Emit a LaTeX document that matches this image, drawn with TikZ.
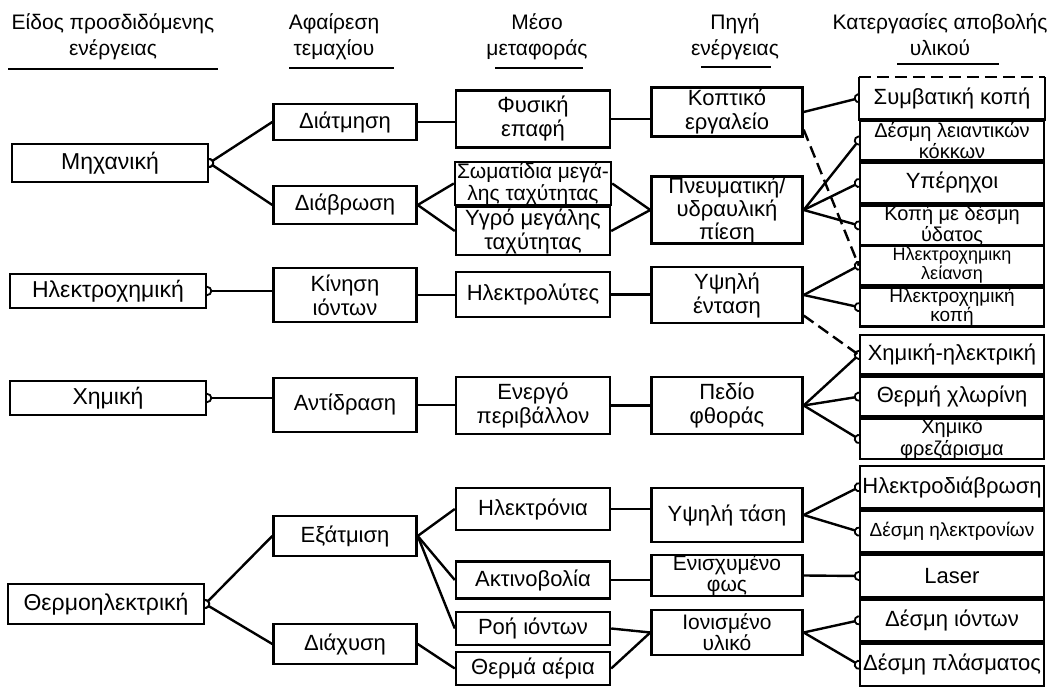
\documentclass[tikz,border=0pt]{standalone}
\usepackage{fontspec}
\setmainfont{Liberation Sans}
\usetikzlibrary{arrows.meta, positioning}
\pgfdeclarelayer{background}
\pgfsetlayers{background,main}

\begin{document}
\begin{tikzpicture}[x=0.5pt, y=-0.5pt,
    box/.style={draw, line width=1.2pt, fill=white, align=center, inner xsep=1pt, inner ysep=0pt,
        font=\fontsize{11}{12}\selectfont},
    c1/.style={box, minimum width=98pt, font=\fontsize{11.5}{12}\selectfont},
    c2/.style={box, minimum width=71.5pt},
    c3/.style={box, minimum width=77pt},
    c4/.style={box, minimum width=75.5pt},
    c5/.style={box, minimum width=92pt},
    twoline/.style={font=\fontsize{10}{9.5}\selectfont},
    hd/.style={align=center, anchor=north, inner sep=0pt, font=\fontsize{10.5}{13}\selectfont},
    uline/.style={line width=1.4pt},
    lnk/.style={line width=1.2pt},
    outtip/.style={{Circle[open, length=5pt, line width=0.9pt]}-, shorten <=-2.5pt},
    intip/.style={-{Circle[open, length=5pt, line width=0.9pt]}, shorten >=-2.5pt},
    dsh/.style={line width=1.2pt, dash pattern=on 6pt off 3pt}
]
    \useasboundingbox (0,0) rectangle (1055,688);

    \node[hd] (h1) at (113,13) {Είδος προσδιδόμενης\\ενέργειας};
    \node[hd] (h2) at (334,13) {Αφαίρεση\\τεμαχίου};
    \node[hd] (h3) at (537,13) {Μέσο\\μεταφοράς};
    \node[hd] (h4) at (735,13) {Πηγή\\ενέργειας};
    \node[hd] (h5) at (940,13) {Κατεργασίες αποβολής\\υλικού};
    \draw[uline] (8,69) -- (218,69);
    \draw[uline] (289,68) -- (394,68);
    \draw[uline] (495,68) -- (583,68);
    \draw[uline] (701,67) -- (771,67);
    \draw[uline] (897,64) -- (999,64);

    \node[c1, minimum height=19pt] (meh) at (110,163) {Μηχανική};
    \node[c1, minimum height=17pt] (hlx) at (108,291) {Ηλεκτροχημική};
    \node[c1, minimum height=17pt] (xhm) at (108,398) {Χημική};
    \node[c1, minimum height=20pt] (therm) at (106,604) {Θερμοηλεκτρική};

    \node[c2, minimum height=18pt] (diat) at (345,122) {Διάτμηση};
    \node[c2, minimum height=19pt] (diavr) at (345,205) {Διάβρωση};
    \node[c2, minimum height=27pt] (kin) at (345,295) {Κίνηση\\ιόντων};
    \node[c2, minimum height=27pt] (antid) at (345,405) {Αντίδραση};
    \node[c2, minimum height=20pt] (exat) at (345,536) {Εξάτμιση};
    \node[c2, minimum height=20pt] (diax) at (345,644) {Διάχυση};

    \node[c3, minimum height=28.5pt] (fys) at (533,119) {Φυσική\\επαφή};
    \node[c3, minimum height=21.5pt, font=\fontsize{10.5}{11}\selectfont] (som) at (533,183.5) {Σωματίδια μεγά-\\λης ταχύτητας};
    \node[c3, minimum height=24pt] (ygro) at (533,231) {Υγρό μεγάλης\\ταχύτητας};
    \node[c3, minimum height=22.5pt] (hlytes) at (533,294.5) {Ηλεκτρολύτες};
    \node[c3, minimum height=28.5pt] (energo) at (533,405.5) {Ενεργό\\περιβάλλον};
    \node[c3, minimum height=21pt] (hlektronia) at (533,509) {Ηλεκτρόνια};
    \node[c3, minimum height=18.5pt] (aktin) at (533,580) {Ακτινοβολία};
    \node[c3, minimum height=16.5pt] (roi) at (533,628.5) {Ροή ιόντων};
    \node[c3, minimum height=16.5pt] (therma) at (533,668.5) {Θερμά αέρια};

    \node[c4, minimum height=22pt, inner ysep=1pt] (kopt) at (727,112) {Κοπτικό\\εργαλείο};
    \node[c4, minimum height=33pt, font=\fontsize{11}{11.5}\selectfont] (pneum) at (727,210) {Πνευματική/\\υδραυλική\\πίεση};
    \node[c4, minimum height=28pt] (yent) at (727,295) {Υψηλή\\ένταση};
    \node[c4, minimum height=28.5pt] (pedio) at (727,405.5) {Πεδίο\\φθοράς};
    \node[c4, minimum height=27pt] (ytasi) at (727,515) {Υψηλή τάση};
    \node[c4, minimum height=19.5pt, font=\fontsize{10.5}{10.5}\selectfont] (enisx) at (727,575.5) {Ενισχυμένο\\φως};
    \node[c4, minimum height=22.5pt, font=\fontsize{10.5}{10.5}\selectfont] (ionis) at (727,632.5) {Ιονισμένο\\υλικό};

    \node[c5, draw=none, minimum height=20pt, anchor=north] (sk) at (952,77) {Συμβατική κοπή};
    \node[c5, twoline, minimum height=20pt, below=0pt of sk] (dlk) {Δέσμη λειαντικών\\κόκκων};
    \node[c5, minimum height=20pt, below=0pt of dlk] (yp) {Υπέρηχοι};
    \node[c5, twoline, minimum height=20pt, below=0pt of yp] (kdy) {Κοπή με δέσμη\\ύδατος};
    \draw[line width=1.2pt] (sk.north west) -- (sk.south west) -- (sk.south east) -- (sk.north east);
    \draw[dsh] (sk.north west) -- (sk.north east);

    \node[c5, minimum height=19.5pt, anchor=north, font=\fontsize{9}{9.5}\selectfont] (hlei) at (952,245) {Ηλεκτροχημικη\\λείανση};
    \node[c5, minimum height=19.5pt, below=0pt of hlei, font=\fontsize{9.5}{9.5}\selectfont] (hkop) {Ηλεκτροχημική\\κοπή};

    \node[c5, minimum height=19.7pt, anchor=north] (xhl) at (952,334) {Χημική-ηλεκτρική};
    \node[c5, minimum height=19.7pt, below=0pt of xhl] (thx) {Θερμή χλωρίνη};
    \node[c5, twoline, minimum height=19.7pt, below=0pt of thx] (xfr) {Χημικό\\φρεζάρισμα};

    \node[c5, minimum height=21pt, anchor=north] (hldv) at (952,465) {Ηλεκτροδιάβρωση};
    \node[c5, minimum height=21pt, below=0pt of hldv, font=\fontsize{9.5}{10}\selectfont] (dhl) {Δέσμη ηλεκτρονίων};
    \node[c5, minimum height=21pt, below=0pt of dhl] (laser) {Laser};
    \node[c5, minimum height=21pt, below=0pt of laser] (dion) {Δέσμη ιόντων};
    \node[c5, minimum height=21pt, below=0pt of dion] (dpl) {Δέσμη πλάσματος};

    \begin{pgfonlayer}{background}
    \draw[lnk, outtip] (meh.east) -- (diat.west);
    \draw[lnk, outtip] (meh.east) -- (diavr.west);
    \draw[lnk] (diat.east) -- (diat.east -| fys.west);
    \draw[lnk] (diavr.east) -- (som.west);
    \draw[lnk] (diavr.east) -- (ygro.west);
    \draw[lnk] (fys.east) -- (fys.east -| kopt.west);
    \draw[lnk] (som.east) -- (pneum.west);
    \draw[lnk] (ygro.east) -- (pneum.west);
    \draw[lnk, intip] (kopt.east) -- (sk.west);
    \draw[lnk, intip] (pneum.east) -- (dlk.west);
    \draw[lnk, intip] (pneum.east) -- (yp.west);
    \draw[lnk, intip] (pneum.east) -- (kdy.west);

    \draw[lnk, outtip] (hlx.east) -- (hlx.east -| kin.west);
    \draw[lnk] (kin.east) -- (kin.east -| hlytes.west);
    \draw[lnk] (hlytes.east) -- (hlytes.east -| yent.west);
    \draw[lnk, intip] (yent.east) -- (hlei.west);
    \draw[lnk, intip] (yent.east) -- (hkop.west);

    \draw[lnk, outtip] (xhm.east) -- (xhm.east -| antid.west);
    \draw[lnk] (antid.east) -- (antid.east -| energo.west);
    \draw[lnk] (energo.east) -- (energo.east -| pedio.west);
    \draw[lnk, intip] (pedio.east) -- (xhl.west);
    \draw[lnk, intip] (pedio.east) -- (thx.west);
    \draw[lnk, intip] (pedio.east) -- (xfr.west);

    \draw[dsh] (kopt.-13) -- (hlei.west);
    \draw[dsh] (yent.-15) -- (xhl.west);

    \draw[lnk, outtip] (therm.east) -- (exat.west);
    \draw[lnk, outtip] (therm.east) -- (diax.west);
    \draw[lnk] (exat.east) -- (hlektronia.west);
    \draw[lnk] (exat.east) -- (aktin.west);
    \draw[lnk] (exat.east) -- (roi.west);
    \draw[lnk] (diax.east) -- (therma.west);
    \draw[lnk] (hlektronia.east) -- (hlektronia.east -| ytasi.west);
    \draw[lnk] (aktin.east) -- (aktin.east -| enisx.west);
    \draw[lnk] (roi.east) -- (ionis.west);
    \draw[lnk] (therma.east) -- (ionis.west);
    \draw[lnk, intip] (ytasi.east) -- (hldv.west);
    \draw[lnk, intip] (ytasi.east) -- (dhl.west);
    \draw[lnk, intip] (enisx.east) -- (laser.west);
    \draw[lnk, intip] (ionis.east) -- (dion.west);
    \draw[lnk, intip] (ionis.east) -- (dpl.west);
    \end{pgfonlayer}
\end{tikzpicture}
\end{document}
